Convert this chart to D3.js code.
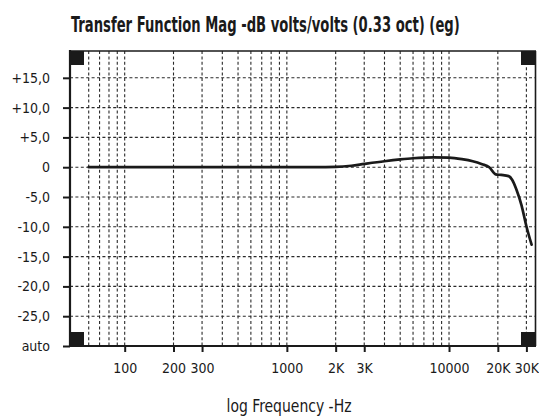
<!DOCTYPE html>
<html>
<head>
<meta charset="utf-8">
<script src="https://cdn.jsdelivr.net/npm/d3@7"></script>
<style>
  html, body { margin: 0; padding: 0; background: #fff; }
  svg { display: block; }
  text { font-family: "Liberation Sans Narrow", "Arial Narrow", "DejaVu Sans Condensed", sans-serif; fill: #1a1a1a; }
</style>
</head>
<body>
<svg id="chart" width="539" height="418"></svg>
<script>
// Transfer function magnitude (dB, volts/volts, 1/3-octave smoothing)
const freqHz = [60, 100, 200, 500, 1000, 1500, 2000, 2500, 3000, 4000, 5000, 6000, 8000,
                10000, 12000, 14000, 16000, 17700, 19400, 21000, 23300, 24500, 26000, 28000, 30000, 32300];
const magDb  = [0, 0, 0, 0, 0, 0, 0.05, 0.25, 0.55, 1.0, 1.3, 1.5, 1.65,
                1.6, 1.35, 1.0, 0.5, 0, -1.2, -1.3, -1.5, -2.1, -3.7, -6.4, -9.9, -13.0];

const yTickValues = [15, 10, 5, 0, -5, -10, -15, -20, -25, -30];
const yTickLabels = ["+15,0", "+10,0", "+5,0", "0", "-5,0", "-10,0", "-15,0", "-20,0", "-25,0", "auto"];

const xTickValues = [100, 200, 300, 1000, 2000, 3000, 10000, 20000, 30000];
const xTickLabels = ["100", "200", "300", "1000", "2K", "3K", "10000", "20K", "30K"];

const gridFreqs = [60, 70, 80, 90, 100, 200, 300, 400, 500, 600, 700, 800, 900,
                   1000, 2000, 3000, 4000, 5000, 6000, 7000, 8000, 9000, 10000, 20000, 30000];

const titleText = "Transfer Function Mag -dB volts/volts (0.33 oct) (eg)";
const xAxisTitle = "log Frequency -Hz";

// plot frame
const frameL = 70, frameR = 535, frameT = 51, frameB = 346;

const svg = d3.select("#chart");

const x = d3.scaleLog().domain([46, 33900]).range([frameL, frameR]);
const y = d3.scaleLinear().domain([-30, 19.5]).range([frameB, frameT]);

const ink = "#1a1a1a";

// dashed grid
const grid = svg.append("g").attr("stroke", "#2a2a2a").attr("stroke-width", 1.1)
  .attr("stroke-dasharray", "3,2.4").attr("fill", "none");
grid.selectAll("line.v").data(gridFreqs).join("line").attr("class", "v")
  .attr("x1", d => x(d)).attr("x2", d => x(d))
  .attr("y1", frameT).attr("y2", frameB);
grid.selectAll("line.h").data(yTickValues.filter(v => v > -30)).join("line").attr("class", "h")
  .attr("x1", frameL).attr("x2", frameR + 1)
  .attr("y1", d => y(d)).attr("y2", d => y(d));

// y axis
const yAxis = d3.axisLeft(y).tickValues(yTickValues)
  .tickFormat((d, i) => yTickLabels[i]).tickSize(7).tickPadding(13);
const gy = svg.append("g").attr("transform", `translate(${frameL},0)`).call(yAxis);
gy.attr("font-family", null).attr("font-size", null);
gy.select(".domain").remove();
gy.selectAll(".tick line").attr("stroke", ink).attr("stroke-width", 2);
gy.selectAll(".tick text").attr("font-size", 14).attr("fill", ink);

// x axis
const xAxis = d3.axisBottom(x).tickValues(xTickValues)
  .tickFormat((d, i) => xTickLabels[i]).tickSize(6).tickPadding(11);
const gx = svg.append("g").attr("transform", `translate(0,${frameB})`).call(xAxis);
gx.attr("font-family", null).attr("font-size", null);
gx.select(".domain").remove();
gx.selectAll(".tick line").attr("stroke", ink).attr("stroke-width", 2);
gx.selectAll(".tick text").attr("font-size", 14).attr("fill", ink);

// frame
svg.append("line").attr("x1", frameL).attr("x2", frameL).attr("y1", frameT - 1).attr("y2", frameB + 1)
  .attr("stroke", ink).attr("stroke-width", 2.2);
svg.append("line").attr("x1", frameL).attr("x2", frameR + 1).attr("y1", frameB).attr("y2", frameB)
  .attr("stroke", ink).attr("stroke-width", 2.2);
svg.append("line").attr("x1", frameL).attr("x2", frameR + 1).attr("y1", frameT).attr("y2", frameT)
  .attr("stroke", ink).attr("stroke-width", 1.6);
svg.append("line").attr("x1", frameR + 0.5).attr("x2", frameR + 0.5).attr("y1", frameT).attr("y2", frameB)
  .attr("stroke", ink).attr("stroke-width", 1.6);

// corner markers
const sq = 14;
const corners = [[frameL, frameT], [frameR - sq, frameT], [frameL, frameB - sq], [frameR - sq, frameB - sq]];
svg.append("g").selectAll("rect").data(corners).join("rect")
  .attr("x", d => d[0]).attr("y", d => d[1]).attr("width", sq).attr("height", sq)
  .attr("fill", ink);

// response curve
const line = d3.line().x((d, i) => x(freqHz[i])).y(d => y(d)).curve(d3.curveMonotoneX);
svg.append("path").datum(magDb).attr("d", line)
  .attr("fill", "none").attr("stroke", ink).attr("stroke-width", 2.7)
  .attr("stroke-linejoin", "round").attr("stroke-linecap", "round");

// condensed text: squeeze a label horizontally to a target width
function condensed(text, tx, ty, width) {
  const w = text.node().getComputedTextLength();
  const s = Math.min(1, width / w);
  text.attr("x", 0).attr("y", 0)
    .attr("transform", `translate(${tx},${ty}) scale(${s},1)`);
}

// titles
const title = svg.append("text")
  .attr("font-size", 22).attr("font-weight", "bold")
  .text(titleText);
condensed(title, 71, 32, 389);

const xTitle = svg.append("text").attr("text-anchor", "middle")
  .attr("font-size", 18)
  .text(xAxisTitle);
condensed(xTitle, 289, 411.5, 125);
</script>
</body>
</html>
